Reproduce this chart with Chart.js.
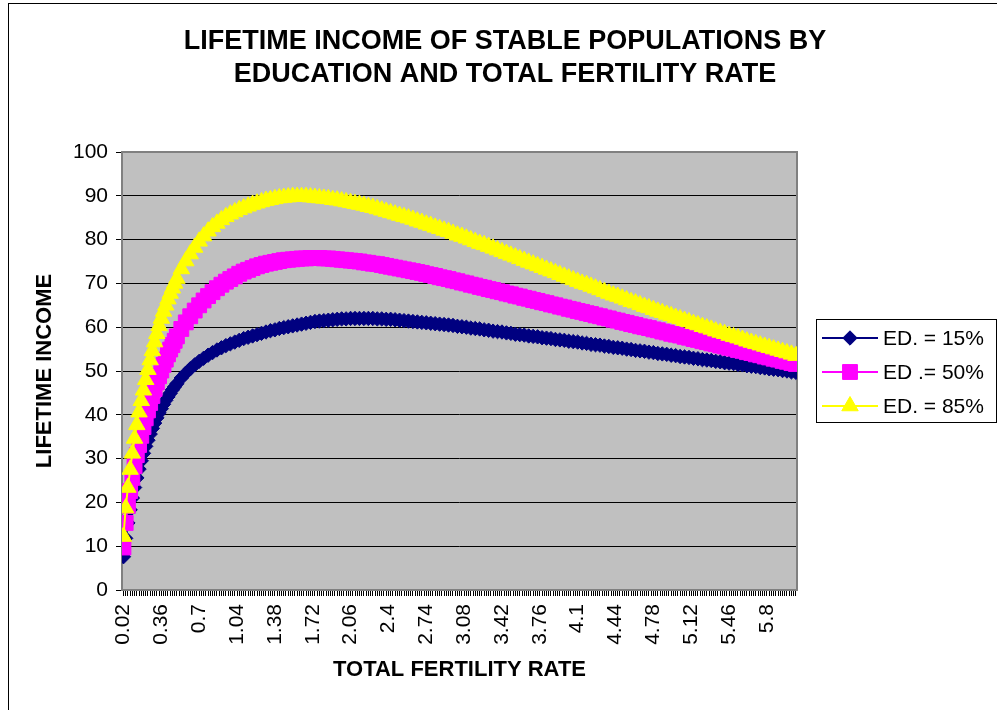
<!DOCTYPE html>
<html>
<head>
<meta charset="utf-8">
<script src="https://cdn.jsdelivr.net/npm/chart.js@4"></script>
<style>
  html, body { margin: 0; padding: 0; background: #fff; }
  #wrap { position: relative; width: 997px; height: 710px; }
</style>
</head>
<body>
<div id="wrap"><canvas id="c" width="997" height="710"></canvas></div>
<script>
// ── DATA ─────────────────────────────────────────
// total fertility rate grid: every 0.02 up to 0.50, then every 0.04 up to 6.06
const tfr = [];
for (let i = 1; i <= 25; i++) tfr.push(+(i * 0.02).toFixed(2));
for (let i = 0; i <= 138; i++) tfr.push(+(0.54 + i * 0.04).toFixed(2));

const xTickLabels = ['0.02','0.36','0.7','1.04','1.38','1.72','2.06','2.4','2.74','3.08',
                     '3.42','3.76','4.1','4.44','4.78','5.12','5.46','5.8'];
const yTicks = [0,10,20,30,40,50,60,70,80,90,100];

const seriesNames = ['ED. = 15%', 'ED .= 50%', 'ED. = 85%'];

const ed15 = [
  7.6, 11.8, 15.3, 18.3, 21.0, 23.4, 25.6, 27.6, 29.5, 31.2,
  32.8, 34.2, 35.6, 36.9, 38.1, 39.3, 40.4, 41.4, 42.4, 43.3,
  44.1, 44.9, 45.7, 46.4, 47.1,
  48.4, 49.5, 50.5, 51.4, 52.2, 52.9, 53.6, 54.2, 54.8, 55.3,
  55.8, 56.2, 56.6, 57.0, 57.4, 57.7, 58.0, 58.3, 58.6, 58.9,
  59.2, 59.4, 59.7, 59.9, 60.1, 60.3, 60.5, 60.7, 60.9, 61.1,
  61.3, 61.4, 61.5, 61.6, 61.7, 61.8, 61.9, 61.9, 62.0, 62.0,
  62.0, 62.0, 62.0, 62.0, 61.9, 61.9, 61.8, 61.8, 61.7, 61.6,
  61.5, 61.4, 61.3, 61.2, 61.1, 61.0, 60.9, 60.8, 60.7, 60.6,
  60.5, 60.4, 60.2, 60.1, 60.0, 59.8, 59.7, 59.6, 59.4, 59.3,
  59.1, 59.0, 58.9, 58.7, 58.6, 58.4, 58.3, 58.2, 58.0, 57.9,
  57.8, 57.6, 57.5, 57.4, 57.2, 57.1, 57.0, 56.8, 56.7, 56.6,
  56.4, 56.3, 56.1, 56.0, 55.9, 55.7, 55.6, 55.4, 55.3, 55.2,
  55.0, 54.9, 54.7, 54.6, 54.5, 54.3, 54.2, 54.0, 53.9, 53.8,
  53.6, 53.5, 53.3, 53.2, 53.1, 52.9, 52.8, 52.6, 52.5, 52.4,
  52.2, 52.1, 51.9, 51.8, 51.7, 51.5, 51.4, 51.2, 51.1, 51.0,
  50.8, 50.7, 50.5, 50.4, 50.3, 50.1, 50.0, 49.8, 49.7
];

const ed50 = [
  9.7, 15.3, 19.2, 22.6, 25.6, 28.3, 30.8, 33.1, 35.2, 37.2,
  39.2, 41.0, 42.7, 44.3, 45.9, 47.4, 48.8, 50.1, 51.4, 52.6,
  53.8, 54.9, 55.9, 56.9, 57.9,
  59.6, 61.1, 62.5, 63.8, 65.0, 66.1, 67.1, 68.0, 68.9, 69.7,
  70.4, 71.0, 71.6, 72.2, 72.7, 73.1, 73.5, 73.9, 74.2, 74.5,
  74.7, 74.9, 75.1, 75.3, 75.4, 75.5, 75.6, 75.7, 75.7, 75.8,
  75.8, 75.8, 75.7, 75.7, 75.6, 75.5, 75.4, 75.3, 75.2, 75.1,
  75.0, 74.8, 74.7, 74.5, 74.4, 74.2, 74.0, 73.8, 73.6, 73.4,
  73.2, 73.0, 72.8, 72.6, 72.4, 72.1, 71.9, 71.7, 71.4, 71.2,
  71.0, 70.7, 70.5, 70.2, 70.0, 69.7, 69.5, 69.2, 69.0, 68.7,
  68.5, 68.2, 68.0, 67.7, 67.5, 67.2, 67.0, 66.7, 66.5, 66.2,
  66.0, 65.7, 65.5, 65.2, 65.0, 64.7, 64.5, 64.2, 64.0, 63.7,
  63.5, 63.2, 63.0, 62.7, 62.5, 62.2, 62.0, 61.7, 61.5, 61.2,
  61.0, 60.7, 60.5, 60.2, 60.0, 59.8, 59.5, 59.3, 59.0, 58.8,
  58.5, 58.3, 58.1, 57.8, 57.6, 57.3, 57.1, 56.8, 56.6, 56.3,
  56.1, 55.8, 55.6, 55.3, 55.1, 54.8, 54.6, 54.3, 54.1, 53.8,
  53.6, 53.3, 53.1, 52.8, 52.6, 52.3, 52.1, 51.8, 51.6
];

const ed85 = [
  12.2, 18.7, 23.4, 27.5, 31.2, 34.6, 37.7, 40.6, 43.2, 45.6,
  48.0, 50.3, 52.5, 54.6, 56.6, 58.5, 60.3, 62.0, 63.6, 65.0,
  66.4, 67.7, 68.9, 70.0, 71.1,
  73.3, 75.1, 76.7, 78.2, 79.6, 80.8, 81.9, 82.9, 83.7, 84.5,
  85.2, 85.8, 86.3, 86.8, 87.2, 87.6, 88.0, 88.3, 88.6, 88.9,
  89.1, 89.3, 89.5, 89.6, 89.7, 89.8, 89.8, 89.8, 89.8, 89.7,
  89.6, 89.5, 89.4, 89.3, 89.1, 89.0, 88.8, 88.6, 88.4, 88.2,
  88.0, 87.8, 87.5, 87.3, 87.0, 86.7, 86.4, 86.1, 85.8, 85.5,
  85.2, 84.9, 84.6, 84.2, 83.9, 83.5, 83.2, 82.8, 82.5, 82.1,
  81.8, 81.4, 81.0, 80.7, 80.3, 79.9, 79.5, 79.1, 78.8, 78.4,
  78.0, 77.6, 77.2, 76.8, 76.4, 76.0, 75.6, 75.2, 74.8, 74.4,
  74.0, 73.6, 73.2, 72.8, 72.4, 72.0, 71.6, 71.2, 70.8, 70.4,
  70.0, 69.7, 69.3, 68.9, 68.5, 68.1, 67.7, 67.3, 67.0, 66.6,
  66.2, 65.8, 65.5, 65.1, 64.7, 64.4, 64.0, 63.6, 63.3, 62.9,
  62.6, 62.2, 61.9, 61.5, 61.2, 60.8, 60.5, 60.1, 59.8, 59.5,
  59.1, 58.8, 58.5, 58.1, 57.8, 57.5, 57.2, 56.8, 56.5, 56.2,
  55.9, 55.6, 55.3, 55.0, 54.7, 54.4, 54.1, 53.8, 53.5
];

// ── STYLE ───────────────────────────────────────
const FONT = "'Liberation Sans', Arial, sans-serif";
const PLOT = { left: 122, top: 152, right: 797, bottom: 590 };
const toXY = ys => ys.map((v, i) => ({ x: tfr[i], y: v }));

const mk = (label, data, color, style, r, order) => ({
  label, data: toXY(data), order,
  borderColor: color, backgroundColor: color, borderWidth: 2,
  pointStyle: style, pointRadius: r, pointHoverRadius: r,
  pointBackgroundColor: color, pointBorderColor: color, pointBorderWidth: 1,
  tension: 0, fill: false,
});

// plot background, grey frame, titles, legend, outer frame
const deco = {
  id: 'deco',
  beforeDraw(chart) {
    const { ctx, chartArea: a } = chart;
    ctx.save();
    ctx.fillStyle = '#fff';
    ctx.fillRect(0, 0, chart.width, chart.height);
    ctx.fillStyle = '#C0C0C0';
    ctx.fillRect(a.left, a.top, a.right - a.left, a.bottom - a.top);
    ctx.restore();
  },
  beforeDatasetsDraw(chart) {
    const { ctx, chartArea: a } = chart;
    ctx.save();
    ctx.strokeStyle = '#808080'; ctx.lineWidth = 2;
    ctx.strokeRect(a.left, a.top, a.right - a.left, a.bottom - a.top);
    ctx.restore();
  },
  afterDraw(chart) {
    const { ctx } = chart;
    ctx.save();
    // titles
    ctx.fillStyle = '#000';
    ctx.textAlign = 'center'; ctx.textBaseline = 'middle';
    ctx.font = 'bold 27px ' + FONT;
    ctx.fillText('LIFETIME INCOME OF STABLE POPULATIONS BY', 505, 42);
    ctx.fillText('EDUCATION AND TOTAL FERTILITY RATE', 505, 75);
    // outer frame (only left and top edges fall inside the picture)
    ctx.strokeStyle = '#000'; ctx.lineWidth = 1;
    ctx.strokeRect(8.5, 3.5, 1000, 720);
    // legend
    const L = { x: 816, y: 319, w: 180, h: 103 };
    ctx.fillStyle = '#fff';
    ctx.fillRect(L.x, L.y, L.w, L.h);
    ctx.strokeRect(L.x + 0.5, L.y + 0.5, L.w, L.h);
    ctx.font = '21px ' + FONT;
    ctx.textAlign = 'left';
    chart.data.datasets.forEach((ds, i) => {
      const y = 338 + i * 34;
      ctx.strokeStyle = ds.borderColor; ctx.lineWidth = 2;
      ctx.beginPath(); ctx.moveTo(822, y); ctx.lineTo(878, y); ctx.stroke();
      ctx.fillStyle = ds.pointBackgroundColor; ctx.strokeStyle = ds.pointBorderColor; ctx.lineWidth = 1;
      Chart.helpers.drawPoint(ctx, { pointStyle: ds.pointStyle, radius: ds.pointRadius, borderWidth: 1, rotation: 0 }, 850, y);
      ctx.fillStyle = '#000';
      ctx.fillText(ds.label, 883, y + 1);
    });
    ctx.restore();
  }
};

new Chart(document.getElementById('c'), {
  type: 'line',
  data: {
    datasets: [
      mk(seriesNames[0], ed15, '#000080', 'rectRot', 7.2, 2),
      mk(seriesNames[1], ed50, '#FF00FF', 'rect', 10.5, 1),
      mk(seriesNames[2], ed85, '#FFFF00', 'triangle', 9.5, 0),
    ]
  },
  options: {
    responsive: false, animation: false, devicePixelRatio: 1,
    layout: { padding: { top: PLOT.top, right: 997 - PLOT.right, left: 0, bottom: 0 } },
    plugins: { legend: { display: false }, tooltip: { enabled: false } },
    scales: {
      x: {
        type: 'linear', min: 0.007, max: 6.07,
        afterFit: s => { s.height = 710 - PLOT.bottom; },
        afterBuildTicks: s => {
          const t = [];
          for (let i = 1; i <= 303; i++) t.push({ value: +(i * 0.02).toFixed(2) });
          s.ticks = t;
        },
        ticks: {
          autoSkip: false, minRotation: 90, maxRotation: 90, padding: 8,
          color: '#000', font: { family: FONT, size: 21 },
          callback: v => {
            const lbl = String(+v.toFixed(2));
            return xTickLabels.includes(lbl) ? lbl : '';
          }
        },
        grid: { drawOnChartArea: false, drawTicks: true, tickLength: 6, color: '#000', lineWidth: 1 },
        border: { display: false },
        title: { display: true, text: 'TOTAL FERTILITY RATE', color: '#000',
                 font: { family: FONT, size: 22, weight: 'bold' }, padding: { top: 0, bottom: 27 } }
      },
      y: {
        min: 0, max: 100,
        afterFit: s => { s.width = PLOT.left; },
        afterBuildTicks: s => { s.ticks = yTicks.map(v => ({ value: v })); },
        ticks: { padding: 8, color: '#000', font: { family: FONT, size: 21 } },
        grid: { color: '#000', lineWidth: 1, tickLength: 6, drawTicks: true },
        border: { display: false },
        title: { display: true, text: 'LIFETIME INCOME', color: '#000',
                 font: { family: FONT, size: 22, weight: 'bold' }, padding: { top: 32, bottom: 0 } }
      }
    }
  },
  plugins: [deco]
});
</script>
</body>
</html>
